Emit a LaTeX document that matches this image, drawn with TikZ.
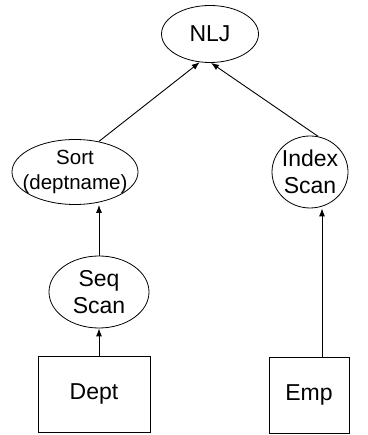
\documentclass[tikz,border=0pt]{standalone}
\usepackage{fontspec}
\setmainfont{Liberation Sans}
\usetikzlibrary{arrows.meta,shapes.geometric,positioning}
\tikzset{
  basic/.style = {draw, line width=0.8pt, inner sep=0pt, align=center,
                  font=\fontsize{23}{27}\selectfont},
  op/.style    = {basic, ellipse},
  rel/.style   = {basic, rectangle},
  small/.style = {font=\fontsize{20.5}{25}\selectfont},
  flow/.style  = {-{Latex[length=8pt,width=6pt]}, line width=0.9pt}
}

\begin{document}
\begin{tikzpicture}[x=1pt,y=1pt]
\useasboundingbox (0,0) rectangle (367,435);

% join on top
\node[op, minimum width=97pt, minimum height=57pt] (nlj) at (210,401) {NLJ};

% the two inputs of the join
\node[op, small, inner xsep=-16pt, inner ysep=-6pt, minimum width=126pt, minimum height=65pt] (sort) at (75,263) {Sort\\(deptname)};
\node[op, inner xsep=-6pt, inner ysep=-4pt, minimum width=76pt, minimum height=72pt] (index) at (310,263) {Index\\Scan};

% scans and tables below
\node[op, below of=sort, node distance=120pt, xshift=24pt,
      minimum width=100pt, minimum height=72pt] (seq) {Seq\\Scan};
\node[rel, below of=seq, node distance=102pt, xshift=-5pt,
      minimum width=112pt, minimum height=76pt] (dept) {Dept};
\node[rel, below of=index, node distance=223pt, xshift=-1pt,
      minimum width=80pt, minimum height=76pt] (emp) {Emp};

% edges go upwards
\draw[flow] (dept.north -| seq.south) -- (seq.south);
\draw[flow] (seq.north) -- (seq.north |- sort.south);
\draw[flow] ([xshift=13pt]emp.north) -- ([xshift=13pt]emp.north |- index.south);
\draw[flow] (sort.52) -- (nlj.250);
\draw[flow] (index.77) -- (nlj.272);
\end{tikzpicture}
\end{document}
